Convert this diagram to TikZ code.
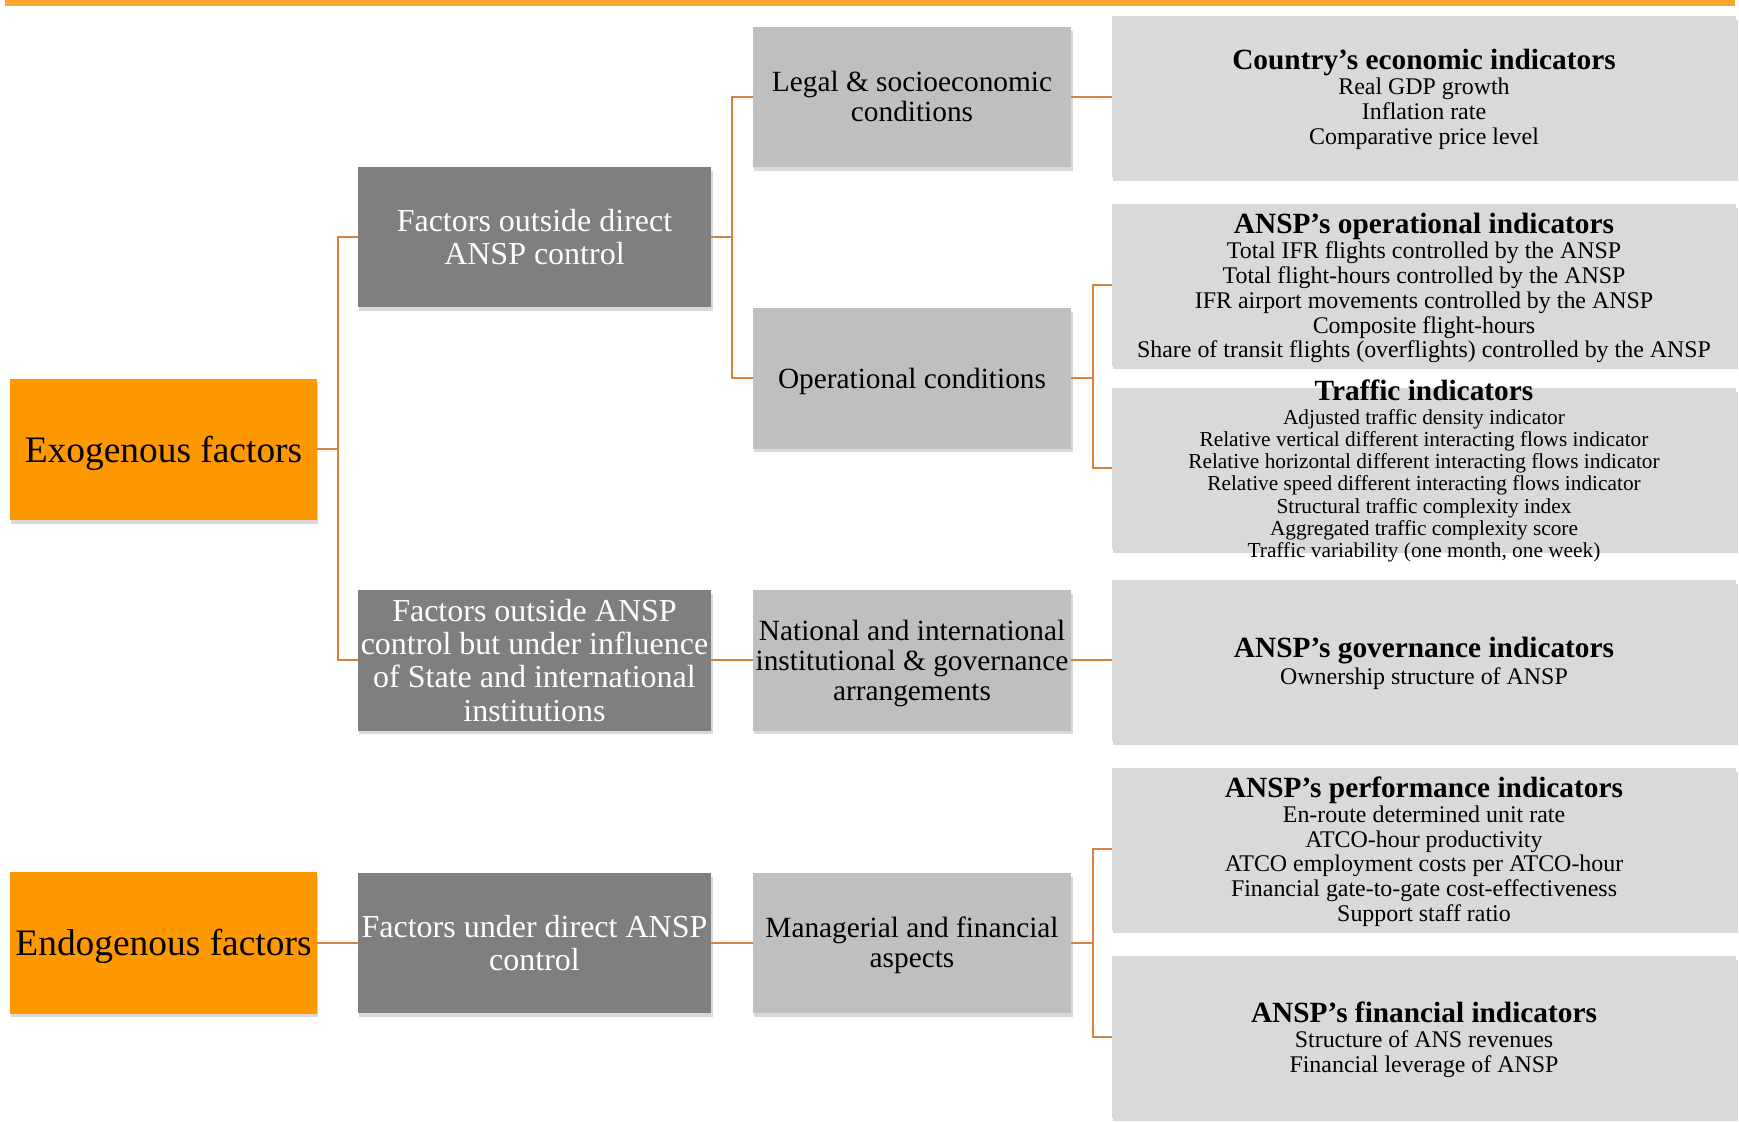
\documentclass[tikz,border=0pt]{standalone}
\usepackage{fontspec}
\setmainfont{Liberation Serif}
\usepackage{xcolor}
\usetikzlibrary{shadows}
\definecolor{barorange}{HTML}{FBA52E}
\definecolor{boxorange}{HTML}{FD9800}
\definecolor{darkgrey}{HTML}{7F7F7F}
\definecolor{midgrey}{HTML}{BFBFBF}
\definecolor{lightgrey}{HTML}{D9D9D9}
\definecolor{linkorange}{HTML}{D9813A}
\newcommand{\hdfont}{\fontsize{8.34}{9}\selectfont\bfseries}
% line struts, so that text sits as in the original slide
\newcommand{\upstrut}{\rule{0pt}{0.89em}}
\newcommand{\dnstrut}{\rule[-0.216em]{0pt}{0pt}}
\newcommand{\hd}[1]{{\hdfont\upstrut #1}}
\tikzstyle{boxbase} = [rectangle, inner sep=0pt, outer sep=0pt, align=center,
    drop shadow={shadow xshift=0.4pt, shadow yshift=-1.1pt, opacity=0.3}]
\tikzstyle{orangebox} = [boxbase, fill=boxorange, minimum width=3.07cm,
    minimum height=1.41cm, font=\fontsize{10.64}{12.7}\selectfont]
\tikzstyle{darkbox} = [boxbase, fill=darkgrey, text=white, minimum width=3.53cm,
    minimum height=1.40cm, font=\fontsize{9.1}{9.47}\selectfont]
\tikzstyle{midbox} = [boxbase, fill=midgrey, minimum width=3.18cm,
    minimum height=1.40cm, font=\fontsize{8.34}{8.54}\selectfont]
\tikzstyle{infobox} = [boxbase, fill=lightgrey, minimum width=6.24cm,
    minimum height=1.61cm, font=\fontsize{6.8}{7.03}\selectfont]
\tikzstyle{link} = [draw=linkorange, line width=0.02cm]

\begin{document}
\begin{tikzpicture}[x=0.01cm, y=-0.01cm]
\useasboundingbox (0,0) rectangle (1739,1122);
\fill[barorange] (5,0) rectangle (1735,6);

% factors
\node[orangebox] (exo) at (163.5,449.5) {\upstrut Exogenous factors\dnstrut};
\node[orangebox] (endo) at (163.5,943) {\upstrut Endogenous factors\dnstrut};

\node[darkbox] (outside) at (534.5,237) {\upstrut Factors outside direct\\ANSP control\dnstrut};
\node[darkbox] (influence) at (534.5,660.5) {\upstrut Factors outside ANSP\\control but under influence\\of State and international\\institutions\dnstrut};
\node[darkbox] (direct) at (534.5,943) {\upstrut Factors under direct ANSP\\control\dnstrut};

% conditions
\node[midbox] (legal) at (912,97) {\upstrut Legal \& socioeconomic\\conditions\dnstrut};
\node[midbox] (oper) at (912,378.5) {\upstrut Operational conditions\dnstrut};
\node[midbox] (natl) at (912,660.5) {\upstrut National and international\\institutional \& governance\\arrangements\dnstrut};
\node[midbox] (manag) at (912,943) {\upstrut Managerial and financial\\aspects\dnstrut};

% indicators
\node[infobox] (country) at (1424,96.5) {\hd{Country’s economic indicators}\\[0.2pt]
    Real GDP growth\\Inflation rate\\Comparative price level\dnstrut};
\node[infobox] (opind) at (1424,285) {\hd{ANSP’s operational indicators}\\[0.3pt]
    Total IFR flights controlled by the ANSP\\Total flight-hours controlled by the ANSP\\
    IFR airport movements controlled by the ANSP\\Composite flight-hours\\
    Share of transit flights (overflights) controlled by the ANSP\dnstrut};
\node[infobox, inner ysep=-0.2cm, font=\fontsize{6.06}{6.32}\selectfont] (traffic) at (1424,468.5) {\hd{Traffic indicators}\\[0.3pt]
    Adjusted traffic density indicator\\Relative vertical different interacting flows indicator\\
    Relative horizontal different interacting flows indicator\\Relative speed different interacting flows indicator\\
    Structural traffic complexity index\\Aggregated traffic complexity score\\
    Traffic variability (one month, one week)\dnstrut};
\node[infobox] (gov) at (1424,660.5) {\hd{ANSP’s governance indicators}\\[0.5pt]
    Ownership structure of ANSP\dnstrut};
\node[infobox] (perf) at (1424,849) {\hd{ANSP’s performance indicators}\\[0pt]
    En-route determined unit rate\\ATCO-hour productivity\\ATCO employment costs per ATCO-hour\\
    Financial gate-to-gate cost-effectiveness\\Support staff ratio\dnstrut};
\node[infobox] (fin) at (1424,1037) {\hd{ANSP’s financial indicators}\\[0.3pt]
    Structure of ANS revenues\\Financial leverage of ANSP\dnstrut};

% connectors
\draw[link] (exo.east) -- ++(21,0) |- (outside.west);
\draw[link] (exo.east) -- ++(21,0) |- (influence.west);
\draw[link] (outside.east) -- ++(21,0) |- (legal.west);
\draw[link] (outside.east) -- ++(21,0) |- (oper.west);
\draw[link] (oper.east) -- ++(22,0) |- (opind.west);
\draw[link] (oper.east) -- ++(22,0) |- (traffic.west);
\draw[link] (legal.east) -- (legal.east -| country.west);
\draw[link] (influence.east) -- (natl.west);
\draw[link] (natl.east) -- (gov.west);
\draw[link] (endo.east) -- (direct.west);
\draw[link] (direct.east) -- (manag.west);
\draw[link] (manag.east) -- ++(22,0) |- (perf.west);
\draw[link] (manag.east) -- ++(22,0) |- (fin.west);
\end{tikzpicture}
\end{document}
